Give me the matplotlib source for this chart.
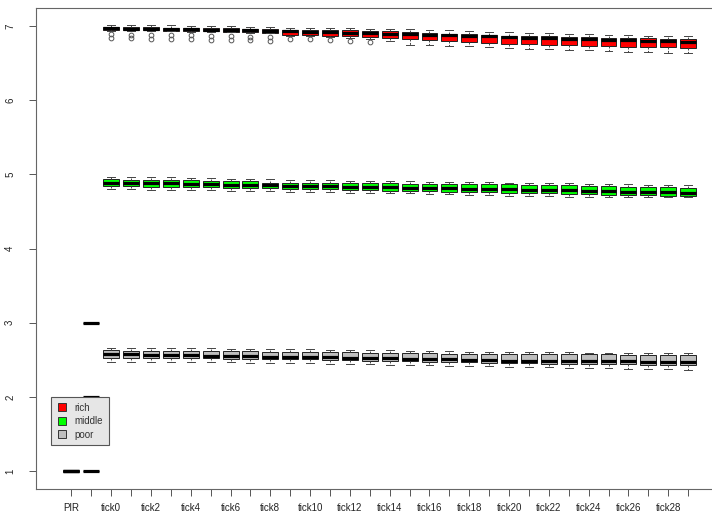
import matplotlib
matplotlib.use("Agg")
import matplotlib.pyplot as plt
from matplotlib.lines import Line2D

plt.rcParams['font.family'] = ['Liberation Sans', 'DejaVu Sans']

# column names (only every other label fits under the axis)
tick_names = ["PIR", ""] + [f"tick{i}" if i % 2 == 0 else "" for i in range(30)]

# first two columns are constant per group
rich_head = [1.0, 3.0]
mid_head = [1.0, 2.0]
poor_head = [1.0, 1.0]

# ---- rich group: tick0 .. tick29 ----
rich_med = [6.964, 6.962, 6.959, 6.956, 6.954, 6.949, 6.946, 6.940, 6.932, 6.926,
            6.921, 6.914, 6.909, 6.902, 6.896, 6.890, 6.882, 6.874, 6.866, 6.858,
            6.845, 6.840, 6.832, 6.826, 6.820, 6.814, 6.808, 6.802, 6.796, 6.788]
rich_q1 = [6.942, 6.940, 6.937, 6.934, 6.931, 6.926, 6.922, 6.916, 6.908, 6.882,
           6.875, 6.868, 6.862, 6.855, 6.840, 6.825, 6.812, 6.800, 6.788, 6.775,
           6.757, 6.750, 6.742, 6.736, 6.730, 6.724, 6.718, 6.713, 6.708, 6.703]
rich_q3 = [6.985, 6.983, 6.980, 6.977, 6.975, 6.971, 6.968, 6.963, 6.955, 6.946,
           6.942, 6.940, 6.938, 6.936, 6.925, 6.915, 6.905, 6.896, 6.887, 6.878,
           6.869, 6.864, 6.858, 6.852, 6.847, 6.842, 6.838, 6.833, 6.829, 6.824]
rich_hi = [7.012, 7.010, 7.008, 7.005, 7.002, 6.998, 6.995, 6.990, 6.985, 6.973,
           6.970, 6.968, 6.965, 6.962, 6.961, 6.960, 6.950, 6.940, 6.930, 6.920,
           6.915, 6.905, 6.898, 6.892, 6.886, 6.880, 6.874, 6.868, 6.863, 6.858]
rich_lo = [6.932, 6.930, 6.927, 6.924, 6.921, 6.916, 6.912, 6.906, 6.898, 6.869,
           6.860, 6.850, 6.840, 6.825, 6.790, 6.747, 6.738, 6.730, 6.722, 6.712,
           6.700, 6.692, 6.684, 6.676, 6.668, 6.660, 6.652, 6.645, 6.640, 6.635]
rich_out = [[6.883, 6.832], [6.880, 6.830], [6.878, 6.827], [6.875, 6.824],
            [6.872, 6.821], [6.866, 6.815], [6.862, 6.811], [6.856, 6.804],
            [6.847, 6.794], [6.824], [6.816], [6.808], [6.800], [6.780],
            [], [], [], [], [], [], [], [], [], [], [], [], [], [], [], []]

# ---- middle group ----
mid_med = [4.888, 4.884, 4.880, 4.876, 4.872, 4.867, 4.862, 4.857, 4.852, 4.848,
           4.843, 4.839, 4.834, 4.830, 4.825, 4.821, 4.816, 4.811, 4.806, 4.802,
           4.797, 4.792, 4.787, 4.782, 4.777, 4.772, 4.767, 4.762, 4.758, 4.753]
mid_q1 = [4.842, 4.839, 4.835, 4.831, 4.827, 4.822, 4.818, 4.814, 4.815, 4.808,
          4.803, 4.797, 4.792, 4.786, 4.781, 4.776, 4.771, 4.766, 4.761, 4.757,
          4.753, 4.748, 4.743, 4.738, 4.733, 4.727, 4.722, 4.717, 4.712, 4.707]
mid_q3 = [4.932, 4.929, 4.925, 4.921, 4.918, 4.913, 4.908, 4.903, 4.888, 4.889,
          4.886, 4.884, 4.882, 4.879, 4.877, 4.875, 4.872, 4.870, 4.868, 4.866,
          4.865, 4.859, 4.854, 4.849, 4.845, 4.840, 4.835, 4.830, 4.825, 4.820]
mid_hi = [4.969, 4.965, 4.961, 4.957, 4.953, 4.948, 4.943, 4.937, 4.930, 4.926,
          4.922, 4.918, 4.914, 4.911, 4.908, 4.905, 4.902, 4.898, 4.894, 4.891,
          4.888, 4.884, 4.880, 4.876, 4.872, 4.868, 4.864, 4.859, 4.855, 4.851]
mid_lo = [4.800, 4.797, 4.794, 4.790, 4.786, 4.782, 4.778, 4.774, 4.770, 4.766,
          4.762, 4.758, 4.754, 4.749, 4.745, 4.741, 4.737, 4.732, 4.726, 4.716,
          4.705, 4.703, 4.701, 4.700, 4.699, 4.698, 4.697, 4.696, 4.694, 4.693]

# ---- poor group ----
poor_med = [2.577, 2.573, 2.569, 2.565, 2.561, 2.557, 2.553, 2.549, 2.545, 2.541,
            2.537, 2.533, 2.529, 2.525, 2.521, 2.517, 2.512, 2.508, 2.503, 2.497,
            2.490, 2.488, 2.486, 2.484, 2.482, 2.480, 2.478, 2.475, 2.472, 2.469]
poor_q1 = [2.531, 2.529, 2.527, 2.524, 2.522, 2.520, 2.518, 2.516, 2.514, 2.510,
           2.505, 2.500, 2.495, 2.490, 2.485, 2.480, 2.475, 2.470, 2.465, 2.460,
           2.455, 2.452, 2.449, 2.447, 2.444, 2.442, 2.440, 2.437, 2.435, 2.432]
poor_q3 = [2.626, 2.624, 2.622, 2.620, 2.618, 2.617, 2.615, 2.614, 2.612, 2.609,
           2.606, 2.603, 2.600, 2.597, 2.594, 2.591, 2.588, 2.585, 2.582, 2.580,
           2.577, 2.576, 2.575, 2.574, 2.573, 2.572, 2.571, 2.570, 2.569, 2.568]
poor_hi = [2.658, 2.657, 2.656, 2.655, 2.654, 2.653, 2.652, 2.651, 2.650, 2.646,
           2.642, 2.638, 2.634, 2.630, 2.626, 2.622, 2.618, 2.614, 2.610, 2.607,
           2.604, 2.603, 2.601, 2.600, 2.598, 2.597, 2.595, 2.594, 2.592, 2.590]
poor_lo = [2.477, 2.475, 2.473, 2.471, 2.469, 2.467, 2.465, 2.463, 2.460, 2.456,
           2.452, 2.448, 2.444, 2.440, 2.436, 2.432, 2.427, 2.422, 2.417, 2.413,
           2.410, 2.405, 2.400, 2.395, 2.390, 2.385, 2.380, 2.375, 2.370, 2.365]

group_names = ["rich", "middle", "poor"]
group_colors = ["#ff0000", "#00ff00", "#bebebe"]


def make_stats(head, med, q1, q3, lo, hi, out=None):
    stats = []
    for v in head:
        stats.append(dict(med=v, q1=v, q3=v, whislo=v, whishi=v, fliers=[]))
    for i in range(len(med)):
        stats.append(dict(med=med[i], q1=q1[i], q3=q3[i], whislo=lo[i],
                          whishi=hi[i], fliers=out[i] if out else []))
    return stats


groups = [
    make_stats(rich_head, rich_med, rich_q1, rich_q3, rich_lo, rich_hi, rich_out),
    make_stats(mid_head, mid_med, mid_q1, mid_q3, mid_lo, mid_hi),
    make_stats(poor_head, poor_med, poor_q1, poor_q3, poor_lo, poor_hi),
]

fig = plt.figure(figsize=(7.12, 5.15), dpi=100)
# the right part of the plot region runs past the edge of the image
ax = fig.add_axes([36 / 712, 26 / 515, 687.5 / 712, 481 / 515])

n = len(tick_names)
positions = list(range(1, n + 1))
for stats, col in zip(groups, group_colors):
    ax.bxp(stats, positions=positions, widths=0.8, patch_artist=True,
           capwidths=0.4,
           boxprops=dict(facecolor=col, edgecolor='#222222', linewidth=0.7),
           medianprops=dict(color='black', linewidth=2.3, solid_capstyle='butt'),
           whiskerprops=dict(color='#444444', linewidth=0.7, linestyle=(0, (2, 1.5))),
           capprops=dict(color='#444444', linewidth=0.7),
           flierprops=dict(marker='o', markerfacecolor='none',
                           markeredgecolor='#555555', markersize=3.4,
                           markeredgewidth=0.7),
           manage_ticks=False)

ax.set_xlim(-0.78, n + 1.78)
ax.set_ylim(0.76, 7.24)
ax.set_xticks(positions)
ax.set_xticklabels(tick_names, fontsize=7, color='#222222')
ax.set_yticks(range(1, 8))
ax.set_yticklabels([str(v) for v in range(1, 8)], fontsize=7, color='#222222',
                   rotation=90, va='center')
ax.tick_params(axis='x', length=5, width=0.7, color='#555555', pad=5)
ax.tick_params(axis='y', length=5, width=0.7, color='#555555', pad=10)
for sp in ax.spines.values():
    sp.set_color('#666666')
    sp.set_linewidth(0.8)

handles = [Line2D([0], [0], marker='s', linestyle='none', markersize=6,
                  markerfacecolor=c, markeredgecolor='#333333',
                  markeredgewidth=0.7, label=g)
           for g, c in zip(group_names, group_colors)]
leg = ax.legend(handles=handles, loc='upper left',
                bbox_to_anchor=(51 / 712, 1 - 397 / 515),
                bbox_transform=fig.transFigure, borderaxespad=0,
                fontsize=7, frameon=True, fancybox=False, framealpha=1,
                facecolor='#e6e6e6', edgecolor='#555555',
                labelspacing=0.35, handlelength=1.0, handletextpad=0.8,
                borderpad=0.6)
leg.get_frame().set_linewidth(0.8)
for t in leg.get_texts():
    t.set_color('#333333')

fig.savefig("out.png", dpi=100)
